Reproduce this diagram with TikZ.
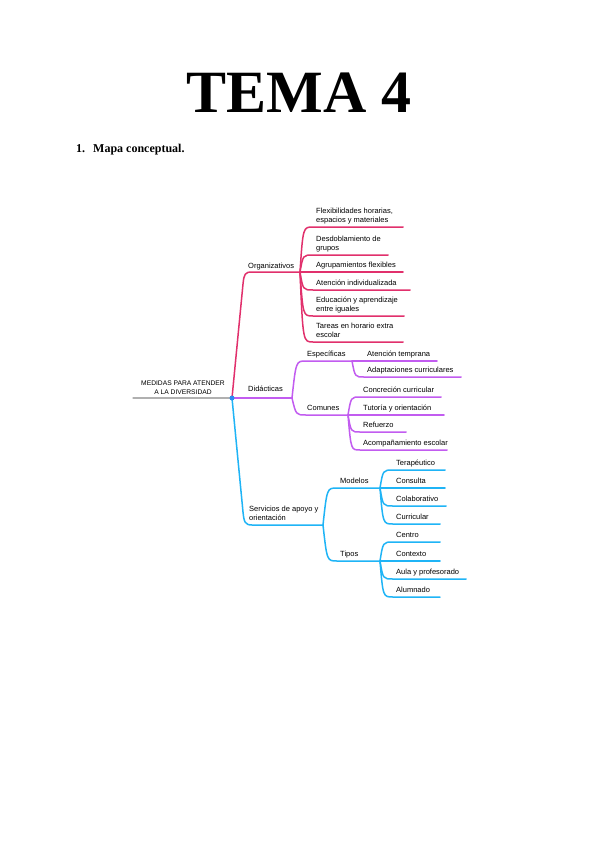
\documentclass[tikz,border=0pt]{standalone}
\usepackage{fontspec}
\setmainfont{Liberation Serif}
\newfontfamily\arialf{Liberation Sans}
\usetikzlibrary{calc}
\definecolor{cpink}{HTML}{E1306C}
\definecolor{cpurp}{HTML}{C25CF0}
\definecolor{cblue}{HTML}{1FB4F6}
\definecolor{cgrey}{HTML}{B0B0B0}
\definecolor{cdot}{HTML}{2B8BF2}
% #1 text offset, #2 style, #3 hub, #4 x start, #5 y, #6 x end, #7 name, #8 text
\newcommand\leafb[8][5]{%
  \coordinate (#7s) at (#4,#5);
  \coordinate (#7e) at (#6,#5);
  \draw[#2] (#3) .. controls ($(#3 |- #7s)+(3,0)$) and ($(#3 |- #7s)+(3,0)$) .. (#7s) -- (#7e);
  \node[txt] (#7) at ($(#7s)+(3,-#1)$) {#8};
}
\begin{document}
\begin{tikzpicture}[x=1pt,y=-1pt, line cap=round, line join=round,
  txt/.style={font=\arialf\fontsize{7.5}{8.8}\selectfont, inner sep=0pt, align=left, anchor=base west},
  pk/.style={draw=cpink, line width=1.5pt},
  pu/.style={draw=cpurp, line width=1.5pt},
  bl/.style={draw=cblue, line width=1.5pt}]
\useasboundingbox[fill=white] (0,0) rectangle (599,848);

\node[font=\bfseries\fontsize{60}{60}\selectfont, anchor=base, inner sep=0] (title) at (299,113) {TEMA 4};
\node[font=\bfseries\fontsize{12}{14}\selectfont, anchor=base west, inner sep=0] (num) at (76,152) {1.};
\node[font=\bfseries\fontsize{12}{14}\selectfont, anchor=base west, inner sep=0] (sub) at (93,152) {Mapa conceptual.};

% root
\coordinate (root) at (232,398);
\coordinate (rootL) at (133,398);
\draw[draw=cgrey, line width=1.3pt] (rootL) -- (root);
\node[font=\arialf\fontsize{6.7}{9.5}\selectfont, inner sep=0, align=center, anchor=base] (rt) at (183,394.5) {MEDIDAS PARA ATENDER\\A LA DIVERSIDAD};

% Organizativos
\coordinate (org) at (300,272);
\draw[pk] (root) -- (243,284) .. controls (244,274) and (245,272) .. (252,272) -- (org);
\node[txt] (orgt) at (248,268) {Organizativos};
\leafb{pk}{org}{313}{227}{403}{o1}{Flexibilidades horarias,\\espacios y materiales}
\leafb{pk}{org}{313}{255}{388}{o2}{Desdoblamiento de\\grupos}
\leafb{pk}{org}{313}{272}{403}{o3}{Agrupamientos flexibles}
\leafb{pk}{org}{313}{290}{410}{o4}{Atención individualizada}
\leafb{pk}{org}{313}{316}{404}{o5}{Educación y aprendizaje\\entre iguales}
\leafb{pk}{org}{313}{342}{403}{o6}{Tareas en horario extra\\escolar}

% Didacticas
\coordinate (did) at (292,398);
\draw[pu] (root) -- (did);
\node[txt] (didt) at (248,391) {Didácticas};
\coordinate (esp) at (352,361);
\coordinate (com) at (348,415);
\draw[pu] (did) .. controls (296,361) and (296,361) .. (306,361) -- (esp);
\draw[pu] (did) .. controls (296,415) and (296,415) .. (306,415) -- (com);
\node[txt] (espt) at (307,356) {Específicas};
\node[txt] (comt) at (307,410) {Comunes};
\leafb{pu}{esp}{364}{361}{437}{e1}{Atención temprana}
\leafb{pu}{esp}{364}{377}{461}{e2}{Adaptaciones curriculares}
\leafb{pu}{com}{360}{397}{441}{c1}{Concreción curricular}
\leafb{pu}{com}{360}{415}{444}{c2}{Tutoría y orientación}
\leafb{pu}{com}{360}{432}{406}{c3}{Refuerzo}
\leafb{pu}{com}{360}{450}{447}{c4}{Acompañamiento escolar}

% Servicios
\coordinate (ser) at (323,525);
\draw[bl] (root) -- (243,512) .. controls (244,522) and (245,525) .. (252,525) -- (ser);
\node[txt] (sert) at (249,520) {Servicios de apoyo y\\orientación};
\coordinate (mod) at (380,488);
\coordinate (tip) at (380,561);
\draw[bl] (ser) .. controls (327,488) and (327,488) .. (337,488) -- (mod);
\draw[bl] (ser) .. controls (327,561) and (327,561) .. (337,561) -- (tip);
\node[txt] (modt) at (340,483) {Modelos};
\node[txt] (tipt) at (340,556) {Tipos};
\leafb{bl}{mod}{393}{470}{445}{m1}{Terapéutico}
\leafb{bl}{mod}{393}{488}{445}{m2}{Consulta}
\leafb{bl}{mod}{393}{506}{446}{m3}{Colaborativo}
\leafb{bl}{mod}{393}{524}{440}{m4}{Curricular}
\leafb{bl}{tip}{393}{542}{440}{t1}{Centro}
\leafb{bl}{tip}{393}{561}{440}{t2}{Contexto}
\leafb{bl}{tip}{393}{579}{466}{t3}{Aula y profesorado}
\leafb{bl}{tip}{393}{597}{440}{t4}{Alumnado}

\node[circle, fill=cdot, inner sep=0pt, minimum size=5pt] (dot) at (root) {};
\end{tikzpicture}
\end{document}
